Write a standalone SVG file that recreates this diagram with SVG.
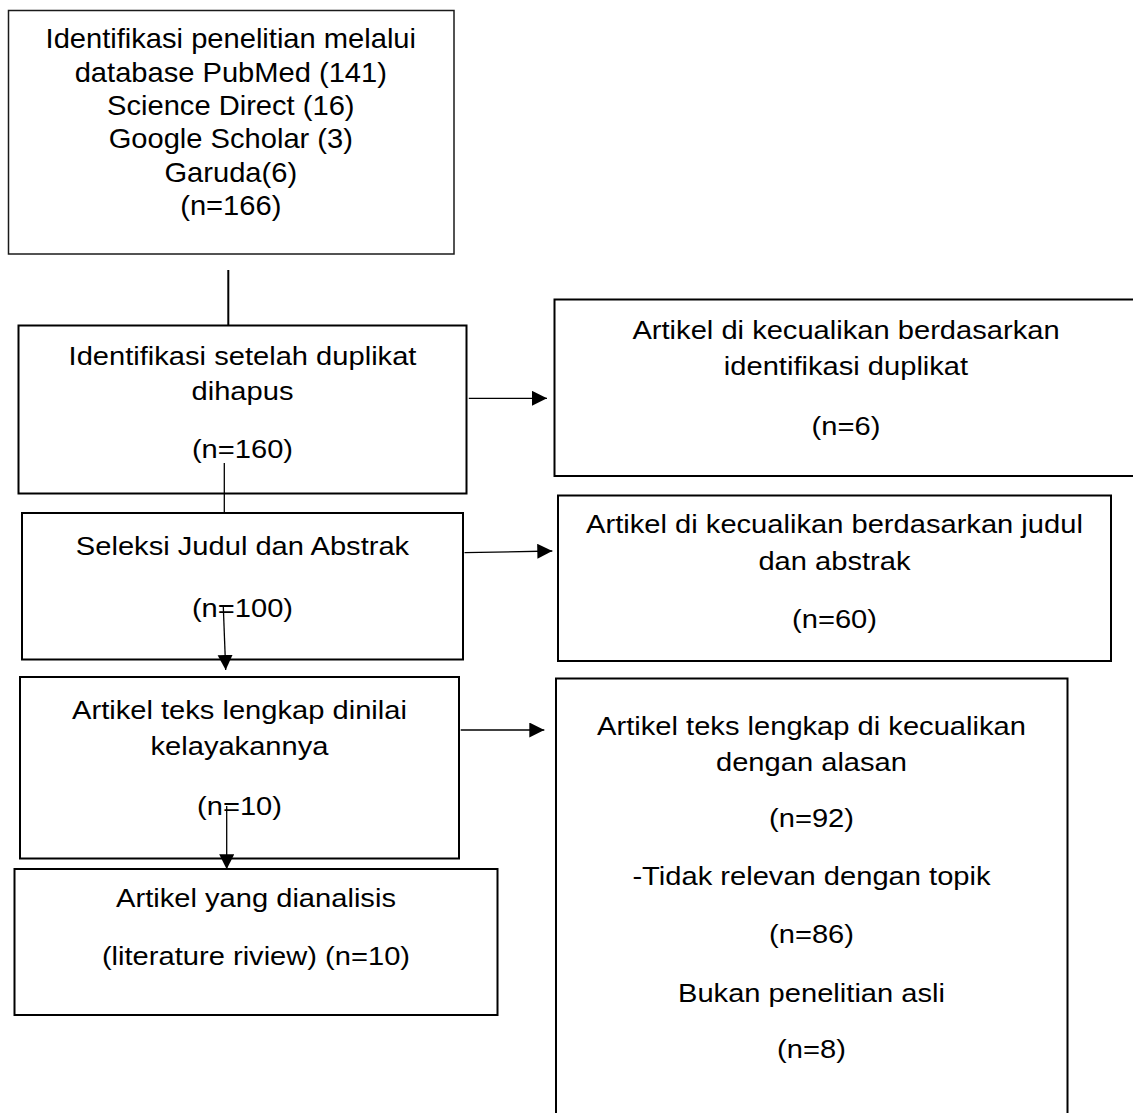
<svg xmlns="http://www.w3.org/2000/svg" width="1133" height="1113" viewBox="0 0 1133 1113">
<style>
  .box { fill: #ffffff; stroke: #000000; stroke-width: 2; }
  .box1 { fill: #ffffff; stroke: #1a1a1a; stroke-width: 1.5; }
  .t { font-family: "Liberation Sans", Arial, sans-serif; font-size: 26px; fill: #000000; text-anchor: middle; }
  .t1 { font-family: "Liberation Sans", Arial, sans-serif; font-size: 28px; fill: #000000; text-anchor: middle; }
  .ln { stroke: #000000; stroke-width: 1.3; fill: none; }
  .lnb { stroke: #000000; stroke-width: 2; fill: none; }
</style>
<defs>
  <marker id="ah" markerUnits="userSpaceOnUse" markerWidth="16" markerHeight="16" refX="15" refY="7.5" orient="auto">
    <path d="M0,0 L15,7.5 L0,15 Z" fill="#000000"/>
  </marker>
</defs>
<rect width="1133" height="1113" fill="#ffffff"/>

<g id="n1">
  <rect class="box1" x="8.5" y="10.5" width="445.5" height="243.5"/>
  <g transform="translate(230.8 0) scale(1.04 1) translate(-230.8 0)">
    <text class="t1" x="230.8" y="48.3">Identifikasi penelitian melalui</text>
    <text class="t1" x="230.8" y="81.7">database PubMed (141)</text>
    <text class="t1" x="230.8" y="115">Science Direct (16)</text>
    <text class="t1" x="230.8" y="148.3">Google Scholar (3)</text>
    <text class="t1" x="230.8" y="181.7">Garuda(6)</text>
    <text class="t1" x="230.8" y="215">(n=166)</text>
  </g>
</g>

<g id="n2">
  <rect class="box" x="18.5" y="325.5" width="448" height="168"/>
  <g transform="translate(242.5 0) scale(1.12 1) translate(-242.5 0)">
    <text class="t" x="242.5" y="365">Identifikasi setelah duplikat</text>
    <text class="t" x="242.5" y="400">dihapus</text>
    <text class="t" x="242.5" y="458">(n=160)</text>
  </g>
</g>

<g id="n3">
  <rect class="box" x="22" y="513" width="441" height="146.5"/>
  <g transform="translate(242.5 0) scale(1.12 1) translate(-242.5 0)">
    <text class="t" x="242.5" y="555">Seleksi Judul dan Abstrak</text>
    <text class="t" x="242.5" y="617">(n=100)</text>
  </g>
</g>

<g id="n4">
  <rect class="box" x="20" y="677" width="439" height="181.5"/>
  <g transform="translate(239.5 0) scale(1.12 1) translate(-239.5 0)">
    <text class="t" x="239.5" y="719">Artikel teks lengkap dinilai</text>
    <text class="t" x="239.5" y="755">kelayakannya</text>
    <text class="t" x="239.5" y="815">(n=10)</text>
  </g>
</g>

<g id="n5">
  <rect class="box" x="14.5" y="869" width="483" height="146"/>
  <g transform="translate(256 0) scale(1.12 1) translate(-256 0)">
    <text class="t" x="256" y="906.7">Artikel yang dianalisis</text>
    <text class="t" x="256" y="965">(literature riview) (n=10)</text>
  </g>
</g>

<g id="nA">
  <rect class="box" x="554.5" y="299.5" width="590" height="176.5"/>
  <g transform="translate(846 0) scale(1.12 1) translate(-846 0)">
    <text class="t" x="846" y="339.3">Artikel di kecualikan berdasarkan</text>
    <text class="t" x="846" y="375">identifikasi duplikat</text>
    <text class="t" x="846" y="435">(n=6)</text>
  </g>
</g>

<g id="nB">
  <rect class="box" x="558" y="495.5" width="553" height="165.5"/>
  <g transform="translate(834.5 0) scale(1.12 1) translate(-834.5 0)">
    <text class="t" x="834.5" y="533.3">Artikel di kecualikan berdasarkan judul</text>
    <text class="t" x="834.5" y="570">dan abstrak</text>
    <text class="t" x="834.5" y="628.3">(n=60)</text>
  </g>
</g>

<g id="nC">
  <rect class="box" x="556" y="678.5" width="511.5" height="450"/>
  <g transform="translate(811.5 0) scale(1.12 1) translate(-811.5 0)">
    <text class="t" x="811.5" y="735">Artikel teks lengkap di kecualikan</text>
    <text class="t" x="811.5" y="771.5">dengan alasan</text>
    <text class="t" x="811.5" y="826.7">(n=92)</text>
    <text class="t" x="811.5" y="885">-Tidak relevan dengan topik</text>
    <text class="t" x="811.5" y="943.3">(n=86)</text>
    <text class="t" x="811.5" y="1001.7">Bukan penelitian asli</text>
    <text class="t" x="811.5" y="1058.3">(n=8)</text>
  </g>
</g>

<g id="connectors">
  <line class="lnb" x1="228.3" y1="270" x2="228.3" y2="325"/>
  <line class="ln" x1="224.3" y1="463" x2="224.3" y2="513"/>
  <line class="ln" x1="223.3" y1="606.7" x2="225.7" y2="670" marker-end="url(#ah)"/>
  <line class="ln" x1="226.7" y1="806" x2="226.7" y2="869.3" marker-end="url(#ah)"/>
  <line class="ln" x1="468.8" y1="398.3" x2="547" y2="398.3" marker-end="url(#ah)"/>
  <line class="ln" x1="464.5" y1="552.7" x2="552.3" y2="551" marker-end="url(#ah)"/>
  <line class="ln" x1="460.7" y1="730" x2="544.3" y2="730" marker-end="url(#ah)"/>
</g>
</svg>
